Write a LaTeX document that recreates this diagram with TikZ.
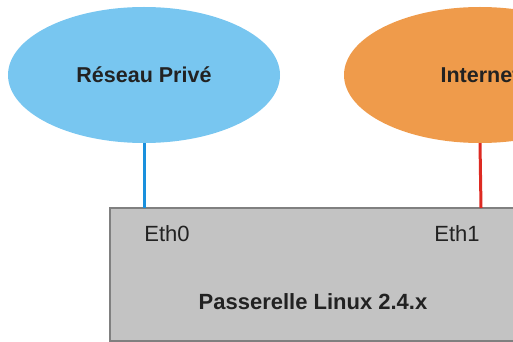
\documentclass[tikz,border=0pt]{standalone}
\usepackage{fontspec}
\setmainfont{Liberation Sans}
\usetikzlibrary{shapes.geometric}
\definecolor{privblue}{HTML}{78C6F0}
\definecolor{netorange}{HTML}{EF9B4B}
\definecolor{boxgray}{HTML}{C3C3C3}
\definecolor{boxedge}{HTML}{808080}
\definecolor{linkblue}{HTML}{1A90DD}
\definecolor{linkred}{HTML}{DD2A22}
\definecolor{txt}{HTML}{222222}
\begin{document}
\begin{tikzpicture}[x=1pt,y=-1pt,
  cloud/.style={ellipse, minimum width=272pt, minimum height=136pt, inner sep=0pt, draw=none, font=\bfseries\fontsize{21.5}{24}\selectfont, text=txt},
  gw/.style={fill=boxgray, draw=boxedge, line width=1.2pt},
  lbl/.style={font=\fontsize{22}{24}\selectfont, text=txt, inner sep=0pt},
  link/.style={line width=3pt}]
\useasboundingbox (0,0) rectangle (513,342);
\node[cloud, fill=privblue] (priv) at (144,75) {Réseau Privé};
\node[cloud, fill=netorange] (net) at (480,75) {Internet};
\draw[gw] (110,208) rectangle (520,341);
\coordinate (p0) at (144,208);
\coordinate (p1) at (481,208);
\node[lbl] (eth0) at (167,234) {Eth0};
\node[lbl] (eth1) at (457,234) {Eth1};
\node[lbl, font=\bfseries\fontsize{22}{24}\selectfont] (gwtxt) at (313,302) {Passerelle Linux 2.4.x};
\draw[link, linkblue] (priv.south) -- (p0);
\draw[link, linkred] (net.south) -- (p1);
\end{tikzpicture}
\end{document}
